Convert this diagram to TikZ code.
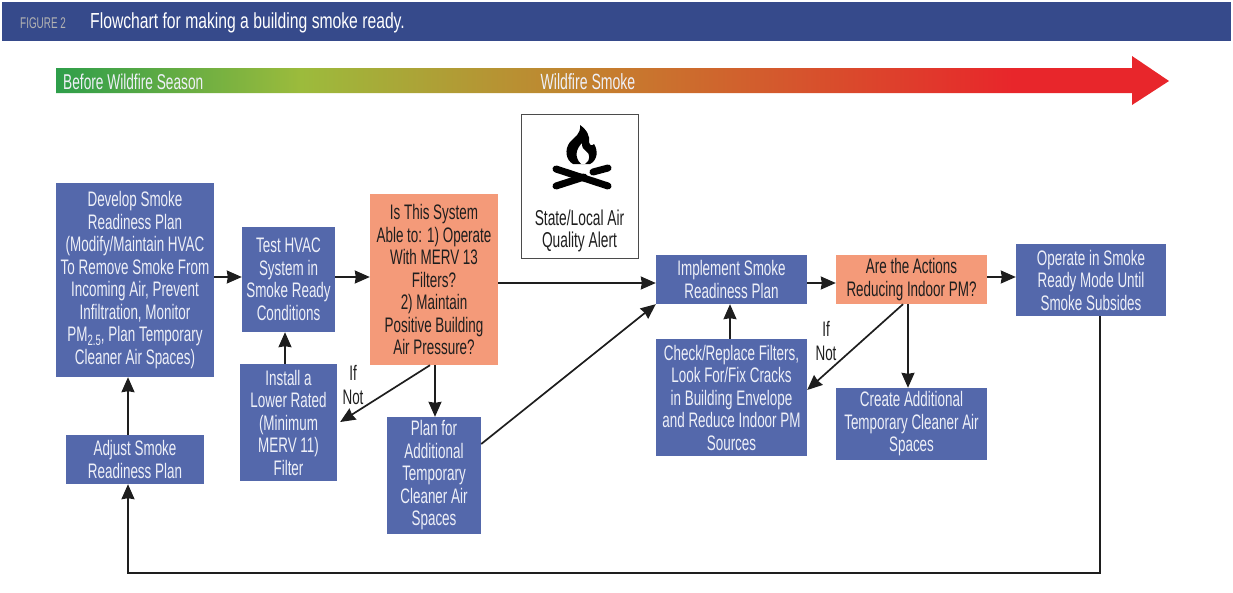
\documentclass[tikz,border=0pt]{standalone}
\usepackage{fontspec}
\setmainfont{Liberation Sans}[FakeStretch=0.64]
\newfontfamily\widefont{Liberation Sans}[FakeStretch=0.72]
\usetikzlibrary{arrows.meta}
\definecolor{headblue}{HTML}{364A8B}
\definecolor{stepblue}{HTML}{5468AB}
\definecolor{queryorange}{HTML}{F49A79}
\definecolor{inkdark}{HTML}{1E1E1E}
\definecolor{palewhite}{HTML}{EEF0F8}
\definecolor{bargreen}{HTML}{2E9E4A}
\definecolor{barlime}{HTML}{9CBB3C}
\definecolor{barorange}{HTML}{C67C2E}
\definecolor{barred}{HTML}{E8262B}
\pgfdeclarehorizontalshading{smokebar}{100bp}{
  color(0bp)=(bargreen);
  color(25bp)=(bargreen);
  color(36bp)=(barlime);
  color(50bp)=(barorange);
  color(68bp)=(barred);
  color(100bp)=(barred)}
\newcommand{\subsize}[1]{\raisebox{-4pt}{\fontsize{15}{15}\selectfont #1}}
\begin{document}
\begin{tikzpicture}[x=1pt,y=-1pt,
    action/.style ={rectangle, fill=stepblue, text=palewhite, inner sep=0pt, align=center,
      font=\fontsize{21}{22.5}\selectfont},
    query/.style ={action, fill=queryorange, text=inkdark},
    flow/.style ={-{Stealth[length=15pt,width=13pt,inset=1pt]}, line width=1.7pt, color=inkdark},
    remark/.style ={align=center, inner sep=0pt, text=inkdark, font=\fontsize{21}{23.5}\selectfont}]
   \useasboundingbox (0,0) rectangle (1233,592);
   % banner
   \fill[headblue] (2,2) rectangle (1231,41);
   \node[anchor=west, inner sep=0pt, text=gray!60, font=\fontsize{15.5}{16}\selectfont] (figno) at (20,23) {FIGURE 2};
   \node[anchor=west, inner sep=0pt, text=white, font=\widefont\fontsize{21.8}{22}\selectfont] (title) at (90,23) {Flowchart for making a building smoke ready.};
   % timeline
   \path[shading=smokebar] (56,68) -- (1132,68) -- (1132,56) -- (1169,81) -- (1132,105) -- (1132,93) -- (56,93) -- cycle;
   \node[anchor=west, inner sep=0pt, text=palewhite, font=\fontsize{21.4}{22}\selectfont] (before) at (63,82) {Before Wildfire Season};
   \node[inner sep=0pt, text=palewhite, font=\fontsize{22}{22}\selectfont] (smoke) at (588,82) {Wildfire Smoke};
   % alert
   \node[draw=inkdark!80, line width=1pt, minimum width=117pt, minimum height=144pt] (alert) at (579.5,186) {};
   \fill[black,even odd rule] (580,125) .. controls (587,130) and (590,136) .. (589,142) .. controls (590,146) and (592,146) .. (594,144)
     .. controls (598,150) and (598,160) .. (590,164) -- (573,164) .. controls (566,160) and (564,150) .. (570,142) .. controls (574,137) and (581,135) .. (580,125) -- cycle
     (582,143) .. controls (576,149) and (574,157) .. (581,164) -- (585,164) .. controls (591,161) and (590,153) .. (586,151) .. controls (583,150) and (582,147) .. (582,143) -- cycle;
   \draw[black, line width=7pt, line cap=round] (556,169) -- (608,186);
   \draw[black, line width=7pt, line cap=round] (556,186) -- (584,177);
   \draw[black, line width=7pt, line cap=round] (593,172) -- (608,168);
   \node[remark, font=\fontsize{21.5}{22.5}\selectfont] (alerttext) at (579.5,231) {State/Local Air\\Quality Alert};
   % steps
   \node[action, minimum width=158pt, minimum height=194pt] (develop) at (135,280) {Develop Smoke\\Readiness Plan\\(Modify/Maintain HVAC\\To Remove Smoke From\\Incoming Air, Prevent\\Infiltration, Monitor\\PM\subsize{2.5}, Plan Temporary\\Cleaner Air Spaces)};
   \node[action, minimum width=93pt, minimum height=105pt] (test) at (288.5,279.5) {Test HVAC\\System in\\Smoke Ready\\Conditions};
   \node[query, minimum width=128pt, minimum height=171pt] (ask) at (434,279.5) {Is This System\\Able to: 1) Operate\\With MERV 13\\Filters?\\2) Maintain\\Positive Building\\Air Pressure?};
   \node[action, minimum width=97pt, minimum height=117pt] (install) at (288.5,422.5) {Install a\\Lower Rated\\(Minimum\\MERV 11)\\Filter};
   \node[action, minimum width=138pt, minimum height=49pt] (adjust) at (135,459.5) {Adjust Smoke\\Readiness Plan};
   \node[action, minimum width=94pt, minimum height=117pt] (cleaner) at (434,475.5) {Plan for\\Additional\\Temporary\\Cleaner Air\\Spaces};
   \node[action, minimum width=151pt, minimum height=49pt] (implement) at (731.5,279.5) {Implement Smoke\\Readiness Plan};
   \node[query, minimum width=151pt, minimum height=49pt] (reduce) at (911.5,279.5) {Are the Actions\\Reducing Indoor PM?};
   \node[action, minimum width=150pt, minimum height=72pt] (operate) at (1091,280) {Operate in Smoke\\Ready Mode Until\\Smoke Subsides};
   \node[action, minimum width=151pt, minimum height=117pt] (check) at (731.5,397.5) {Check/Replace Filters,\\Look For/Fix Cracks\\in Building Envelope\\and Reduce Indoor PM\\Sources};
   \node[action, minimum width=151pt, minimum height=72pt] (create) at (911.5,424) {Create Additional\\Temporary Cleaner Air\\Spaces};
   % if not
   \node[remark] (ifnot) at (353,385) {If\\Not};
   \node[remark] (ifnottwo) at (826,341) {If\\Not};
   \coordinate (loopright) at (1100,573);
   \coordinate (loopleft) at (128,573);
   \draw[flow] ([yshift=3pt]develop.east) -- ([yshift=2.5pt]test.west);
   \draw[flow] ([yshift=2.5pt]test.east) -- ([yshift=2.5pt]ask.west);
   \draw[flow] ([yshift=-3.5pt]ask.east) -- ([yshift=-3.5pt]implement.west);
   \draw[flow] ([yshift=-3.5pt]implement.east) -- ([yshift=-3.5pt]reduce.west);
   \draw[flow] ([yshift=2.5pt]reduce.east) -- ([yshift=3pt]operate.west);
   \draw[flow] ([xshift=-3.5pt]install.north) -- ([xshift=-3.5pt]test.south);
   \draw[flow] ([xshift=1pt]ask.south) -- ([xshift=1pt]cleaner.north);
   \draw[flow] ([xshift=-4pt]ask.south) -- ([yshift=0.5pt,xshift=3pt]install.east);
   \draw[flow] ([yshift=31.5pt]cleaner.east) -- (implement.south west);
   \draw[flow] ([xshift=-1.5pt]check.north) -- ([xshift=-1.5pt]implement.south);
   \draw[flow] ([xshift=-8.5pt]reduce.south) -- ([yshift=7.5pt]check.east);
   \draw[flow] ([xshift=-3.5pt]reduce.south) -- ([xshift=-3.5pt]create.north);
   \draw[flow] ([xshift=9pt]operate.south) -- (loopright) -- (loopleft) -- ([xshift=-7pt]adjust.south);
   \draw[flow] ([xshift=-7pt]adjust.north) -- ([xshift=-7pt]develop.south);
 \end{tikzpicture}
\end{document}
